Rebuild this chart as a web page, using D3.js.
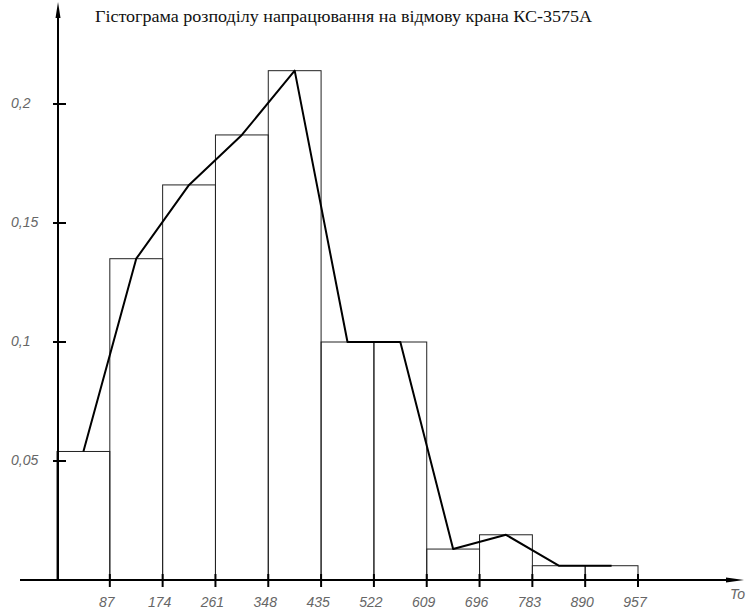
<!DOCTYPE html>
<html>
<head>
<meta charset="utf-8">
<script src="https://cdn.jsdelivr.net/npm/d3@7"></script>
<style>
  body { margin: 0; background: #fff; }
  .tick-label { font-family: "Liberation Sans", sans-serif; font-style: italic; font-size: 14px; fill: #666; }
</style>
</head>
<body>
<div id="chart"></div>
<script>
// data
var title = "Гістограма розподілу напрацювання на відмову крана КС-3575А";
var binValues = [0.054, 0.135, 0.166, 0.187, 0.214, 0.100, 0.100, 0.013, 0.019, 0.006, 0.006];
var xTickLabels = ["87", "174", "261", "348", "435", "522", "609", "696", "783", "890", "957"];
var yTickValues = [0.05, 0.1, 0.15, 0.2];
var yTickLabels = ["0,05", "0,1", "0,15", "0,2"];
var xAxisName = "To";

var width = 747, height = 610;

var svg = d3.select("#chart")
  .append("svg")
    .attr("width", width)
    .attr("height", height);

// x: bin index 0..11 (bin edges), y: relative frequency
var x = d3.scaleLinear()
  .domain([0, binValues.length])
  .range([57, 638]);

var y = d3.scaleLinear()
  .domain([0, 0.2])
  .range([580, 104]);

// bars (outlined rectangles)
svg.selectAll("rect.bar")
  .data(binValues)
  .enter()
  .append("rect")
    .attr("class", "bar")
    .attr("x", function(d, i) { return x(i); })
    .attr("y", function(d) { return y(d); })
    .attr("width", function(d, i) { return x(i + 1) - x(i); })
    .attr("height", function(d) { return y(0) - y(d); })
    .attr("fill", "none")
    .attr("stroke", "#222")
    .attr("stroke-width", 1);

// frequency polygon through bin midpoints
var line = d3.line()
  .x(function(d, i) { return x(i + 0.5); })
  .y(function(d) { return y(d); });

svg.append("path")
  .datum(binValues)
  .attr("d", line)
  .attr("fill", "none")
  .attr("stroke", "#000")
  .attr("stroke-width", 2)
  .attr("stroke-linejoin", "round");

// x axis
svg.append("line")
  .attr("x1", 20).attr("x2", 732)
  .attr("y1", y(0)).attr("y2", y(0))
  .attr("stroke", "#000").attr("stroke-width", 2);
svg.append("path")
  .attr("d", "M726," + (y(0) - 2.5) + "L744," + y(0) + "L726," + (y(0) + 2.5) + "Z")
  .attr("fill", "#000");

var xTicks = svg.append("g");
xTicks.selectAll("line")
  .data(xTickLabels)
  .enter()
  .append("line")
    .attr("x1", function(d, i) { return x(i + 1); })
    .attr("x2", function(d, i) { return x(i + 1); })
    .attr("y1", y(0) - 6)
    .attr("y2", y(0) + 7)
    .attr("stroke", "#000")
    .attr("stroke-width", 2);
xTicks.selectAll("text")
  .data(xTickLabels)
  .enter()
  .append("text")
    .attr("class", "tick-label")
    .attr("x", function(d, i) { return x(i + 1) - 3; })
    .attr("y", y(0) + 27)
    .attr("text-anchor", "middle")
    .text(function(d) { return d; });

svg.append("text")
  .attr("class", "tick-label")
  .attr("x", 730)
  .attr("y", y(0) + 19)
  .text(xAxisName);

// y axis
svg.append("line")
  .attr("x1", 58).attr("x2", 58)
  .attr("y1", y(0)).attr("y2", 14)
  .attr("stroke", "#000").attr("stroke-width", 2);
svg.append("path")
  .attr("d", "M55.5,18L58,2L60.5,18Z")
  .attr("fill", "#000");

var yTicks = svg.append("g");
yTicks.selectAll("line")
  .data(yTickValues)
  .enter()
  .append("line")
    .attr("x1", 53)
    .attr("x2", 66)
    .attr("y1", function(d) { return y(d); })
    .attr("y2", function(d) { return y(d); })
    .attr("stroke", "#000")
    .attr("stroke-width", 2);
yTicks.selectAll("text")
  .data(yTickValues)
  .enter()
  .append("text")
    .attr("class", "tick-label")
    .attr("x", 11)
    .attr("y", function(d) { return y(d) + 4; })
    .text(function(d, i) { return yTickLabels[i]; });

// title
svg.append("text")
  .attr("x", 95)
  .attr("y", 22)
  .attr("font-family", "Liberation Serif, serif")
  .attr("font-size", 17)
  .attr("textLength", 497)
  .attr("lengthAdjust", "spacingAndGlyphs")
  .attr("fill", "#111")
  .text(title);
</script>
</body>
</html>
